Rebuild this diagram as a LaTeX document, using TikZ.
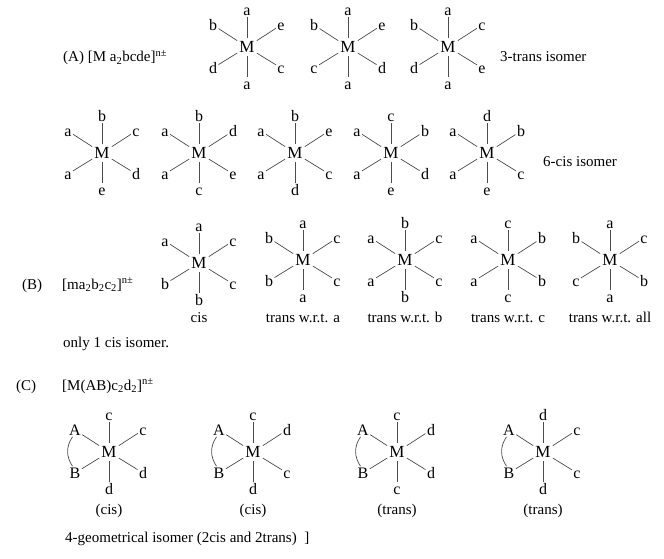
\documentclass[tikz,border=0pt]{standalone}
\usepackage{fontspec}
\setmainfont{Liberation Serif}
\usetikzlibrary{positioning}

\tikzset{
  lig/.style={inner sep=1.3pt, text height=10.8pt, text depth=0pt, font=\fontsize{16}{18}\selectfont},
  metal/.style={inner xsep=2pt, inner ysep=3.5pt, font=\fontsize{17}{18}\selectfont},
  bond/.style={draw=black!70, line width=0.7pt},
  txt/.style={anchor=base west, inner sep=0pt, font=\fontsize{15}{18}\selectfont},
  capt/.style={anchor=base, inner sep=0pt, font=\fontsize{15}{18}\selectfont}
}

% octahedral complex: name, x, y, top, upper left, upper right, lower left, lower right, bottom
\newcommand{\octa}[9]{%
  \begin{scope}[shift={(#2,#3)}]
    \node[metal] (#1) at (0,0) {M};
    \node[lig] (#1t) at (0,-37) {#4};
    \node[lig] (#1ul) at (-34,-22) {#5};
    \node[lig] (#1ur) at (34,-22) {#6};
    \node[lig] (#1ll) at (-34,21) {#7};
    \node[lig] (#1lr) at (34,21) {#8};
    \node[lig] (#1b) at (0,37) {#9};
  \end{scope}
  \foreach \p in {t,ul,ur,ll,lr,b} \draw[bond] (#1) -- (#1\p);
}

\begin{document}
\begin{tikzpicture}[x=1pt, y=-1pt]
\useasboundingbox (0,0) rectangle (664,559);

% (A)
\node[txt] (labA) at (63,62) {(A) [M a\textsubscript{2}bcde]\textsuperscript{n±}};
\octa{ma1}{247}{47}{a}{b}{e}{d}{c}{a}
\octa{ma2}{348}{47}{a}{b}{e}{c}{d}{a}
\octa{ma3}{448}{47}{a}{b}{c}{d}{e}{a}
\node[txt] (transA) at (500,62) {3-trans isomer};

\octa{mc1}{102}{153}{b}{a}{c}{a}{d}{e}
\octa{mc2}{199}{153}{b}{a}{d}{a}{e}{c}
\octa{mc3}{295}{153}{b}{a}{e}{a}{c}{d}
\octa{mc4}{391}{153}{c}{a}{b}{a}{d}{e}
\octa{mc5}{487}{153}{d}{a}{b}{a}{c}{e}
\node[txt] (cisA) at (543,166) {6-cis isomer};

% (B)
\node[txt] (labB) at (22,289) {(B)};
\node[txt] (formB) at (62,289) {[ma\textsubscript{2}b\textsubscript{2}c\textsubscript{2}]\textsuperscript{n±}};
\octa{mb1}{199}{263}{a}{a}{c}{b}{c}{b}
\octa{mb2}{303}{260}{a}{b}{c}{b}{c}{a}
\octa{mb3}{405}{260}{b}{a}{c}{a}{c}{b}
\octa{mb4}{508}{260}{c}{a}{b}{a}{b}{c}
\octa{mb5}{610}{260}{a}{b}{c}{c}{b}{a}
\node[capt] (capB1) at (199,322) {cis};
\node[capt] (capB2) at (303,322) {trans w.r.t. a};
\node[capt] (capB3) at (405,322) {trans w.r.t. b};
\node[capt] (capB4) at (508,322) {trans w.r.t. c};
\node[capt] (capB5) at (610,322) {trans w.r.t. all};
\node[txt] (onlyB) at (63,347) {only 1 cis isomer.};

% (C)
\node[txt] (labC) at (16,390) {(C)};
\node[txt] (formC) at (62,390) {[M(AB)c\textsubscript{2}d\textsubscript{2}]\textsuperscript{n±}};
\octa{md1}{109}{452}{c}{A}{c}{B}{d}{d}
\octa{md2}{253}{452}{c}{A}{d}{B}{c}{d}
\octa{md3}{397}{452}{c}{A}{d}{B}{d}{c}
\octa{md4}{543}{452}{d}{A}{c}{B}{c}{d}
\foreach \n in {md1,md2,md3,md4}
  \draw[bond] ([xshift=-2.5pt]\n ul.south) to[bend right=35] ([xshift=-2.5pt]\n ll.north);
\node[capt] (capC1) at (109,514) {(cis)};
\node[capt] (capC2) at (253,514) {(cis)};
\node[capt] (capC3) at (397,514) {(trans)};
\node[capt] (capC4) at (543,514) {(trans)};
\node[txt] (sumC) at (65,542) {4-geometrical isomer (2cis and 2trans)\ \ ]};
\end{tikzpicture}
\end{document}
